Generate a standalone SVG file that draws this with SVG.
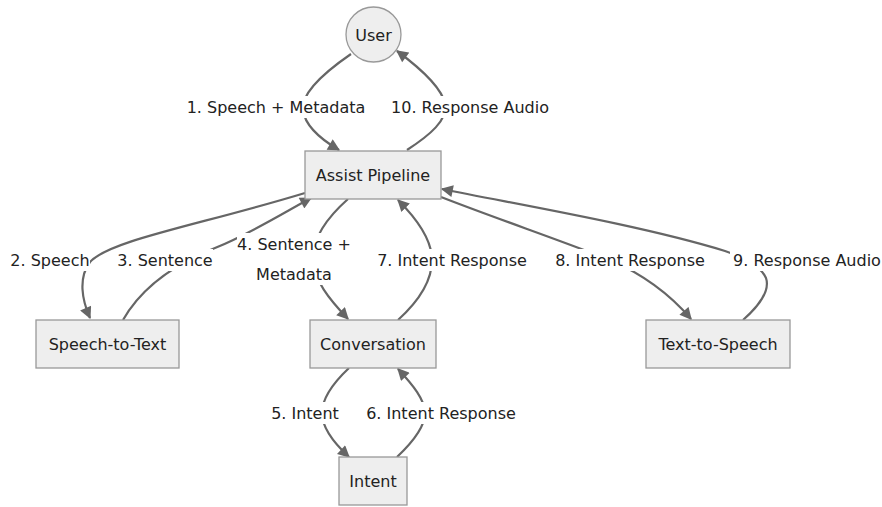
<svg xmlns="http://www.w3.org/2000/svg" width="882" height="507" viewBox="0 0 882 507">
<style>
.node rect,.node circle{fill:#eeeeee;stroke:#999999;stroke-width:1.3}
text{font-family:"DejaVu Sans",Verdana,sans-serif;font-size:16px;fill:#222;text-anchor:middle}
.edge{fill:none;stroke:#666666;stroke-width:2.2}
.lbl rect{fill:#ffffff}
</style>
<defs>
<marker id="arr" viewBox="0 0 10 10" refX="9" refY="5" markerUnits="userSpaceOnUse" markerWidth="13" markerHeight="12" orient="auto">
<path d="M0,0 L10,5 L0,10 z" fill="#666666"/>
</marker>
</defs>
<rect width="882" height="507" fill="#ffffff"/>
<g id="connectors">
<path class="edge" marker-end="url(#arr)" d="M351,54 C322,74 301,94 303,110 C305,126 322,140 339,150"/>
<path class="edge" marker-end="url(#arr)" d="M407,150 C430,135 448,120 445,104 C442,88 420,68 397,51"/>
<path class="edge" marker-end="url(#arr)" d="M305,193 C200,225 110,240 90,262 C78,278 82,300 90,318"/>
<path class="edge" marker-end="url(#arr)" d="M123,320 C140,290 170,266 215,248 C250,234 285,212 311,198"/>
<path class="edge" marker-end="url(#arr)" d="M348,199 C330,215 313,235 313,258 C313,280 330,300 348,319"/>
<path class="edge" marker-end="url(#arr)" d="M398,320 C420,300 432,280 432,260 C432,240 418,220 398,200"/>
<path class="edge" marker-end="url(#arr)" d="M441,197 C500,220 560,240 610,260 C640,273 668,292 691,319"/>
<path class="edge" marker-end="url(#arr)" d="M743,320 C760,305 770,290 766,278 C760,265 745,258 725,251 C640,225 520,205 442,189"/>
<path class="edge" marker-end="url(#arr)" d="M349,368 C331,385 322,400 322,413 C322,428 335,444 349,457"/>
<path class="edge" marker-end="url(#arr)" d="M397,457 C415,440 425,425 425,413 C425,400 413,385 398,369"/>
</g>
<g id="edge-labels">
<g class="lbl"><rect x="186" y="96" width="181" height="22"/><text x="276" y="113">1. Speech + Metadata</text></g>
<g class="lbl"><rect x="390" y="96" width="160" height="22"/><text x="470" y="113">10. Response Audio</text></g>
<g class="lbl"><rect x="10" y="249" width="80" height="22"/><text x="50" y="266">2. Speech</text></g>
<g class="lbl"><rect x="117" y="249" width="96" height="22"/><text x="165" y="266">3. Sentence</text></g>
<g class="lbl"><rect x="237" y="233" width="114" height="52"/><text x="294" y="250">4. Sentence +</text><text x="294" y="280">Metadata</text></g>
<g class="lbl"><rect x="375" y="249" width="154" height="22"/><text x="452" y="266">7. Intent Response</text></g>
<g class="lbl"><rect x="553" y="249" width="154" height="22"/><text x="630" y="266">8. Intent Response</text></g>
<g class="lbl"><rect x="730" y="249" width="154" height="22"/><text x="807" y="266">9. Response Audio</text></g>
<g class="lbl"><rect x="268" y="402" width="74" height="22"/><text x="305" y="419">5. Intent</text></g>
<g class="lbl"><rect x="364" y="402" width="155" height="22"/><text x="441" y="419">6. Intent Response</text></g>
</g>
<g id="user" class="node"><circle cx="373.5" cy="34.5" r="27.5"/><text x="373.5" y="41">User</text></g>
<g id="assist" class="node"><rect x="305" y="151" width="136" height="48"/><text x="373" y="181">Assist Pipeline</text></g>
<g id="stt" class="node"><rect x="36" y="320" width="143" height="48"/><text x="107.5" y="350">Speech-to-Text</text></g>
<g id="conversation" class="node"><rect x="310" y="320" width="126" height="48"/><text x="373" y="350">Conversation</text></g>
<g id="tts" class="node"><rect x="646" y="320" width="144" height="48"/><text x="718" y="350">Text-to-Speech</text></g>
<g id="intent" class="node"><rect x="339" y="457" width="68" height="48"/><text x="373" y="487">Intent</text></g>
</svg>
